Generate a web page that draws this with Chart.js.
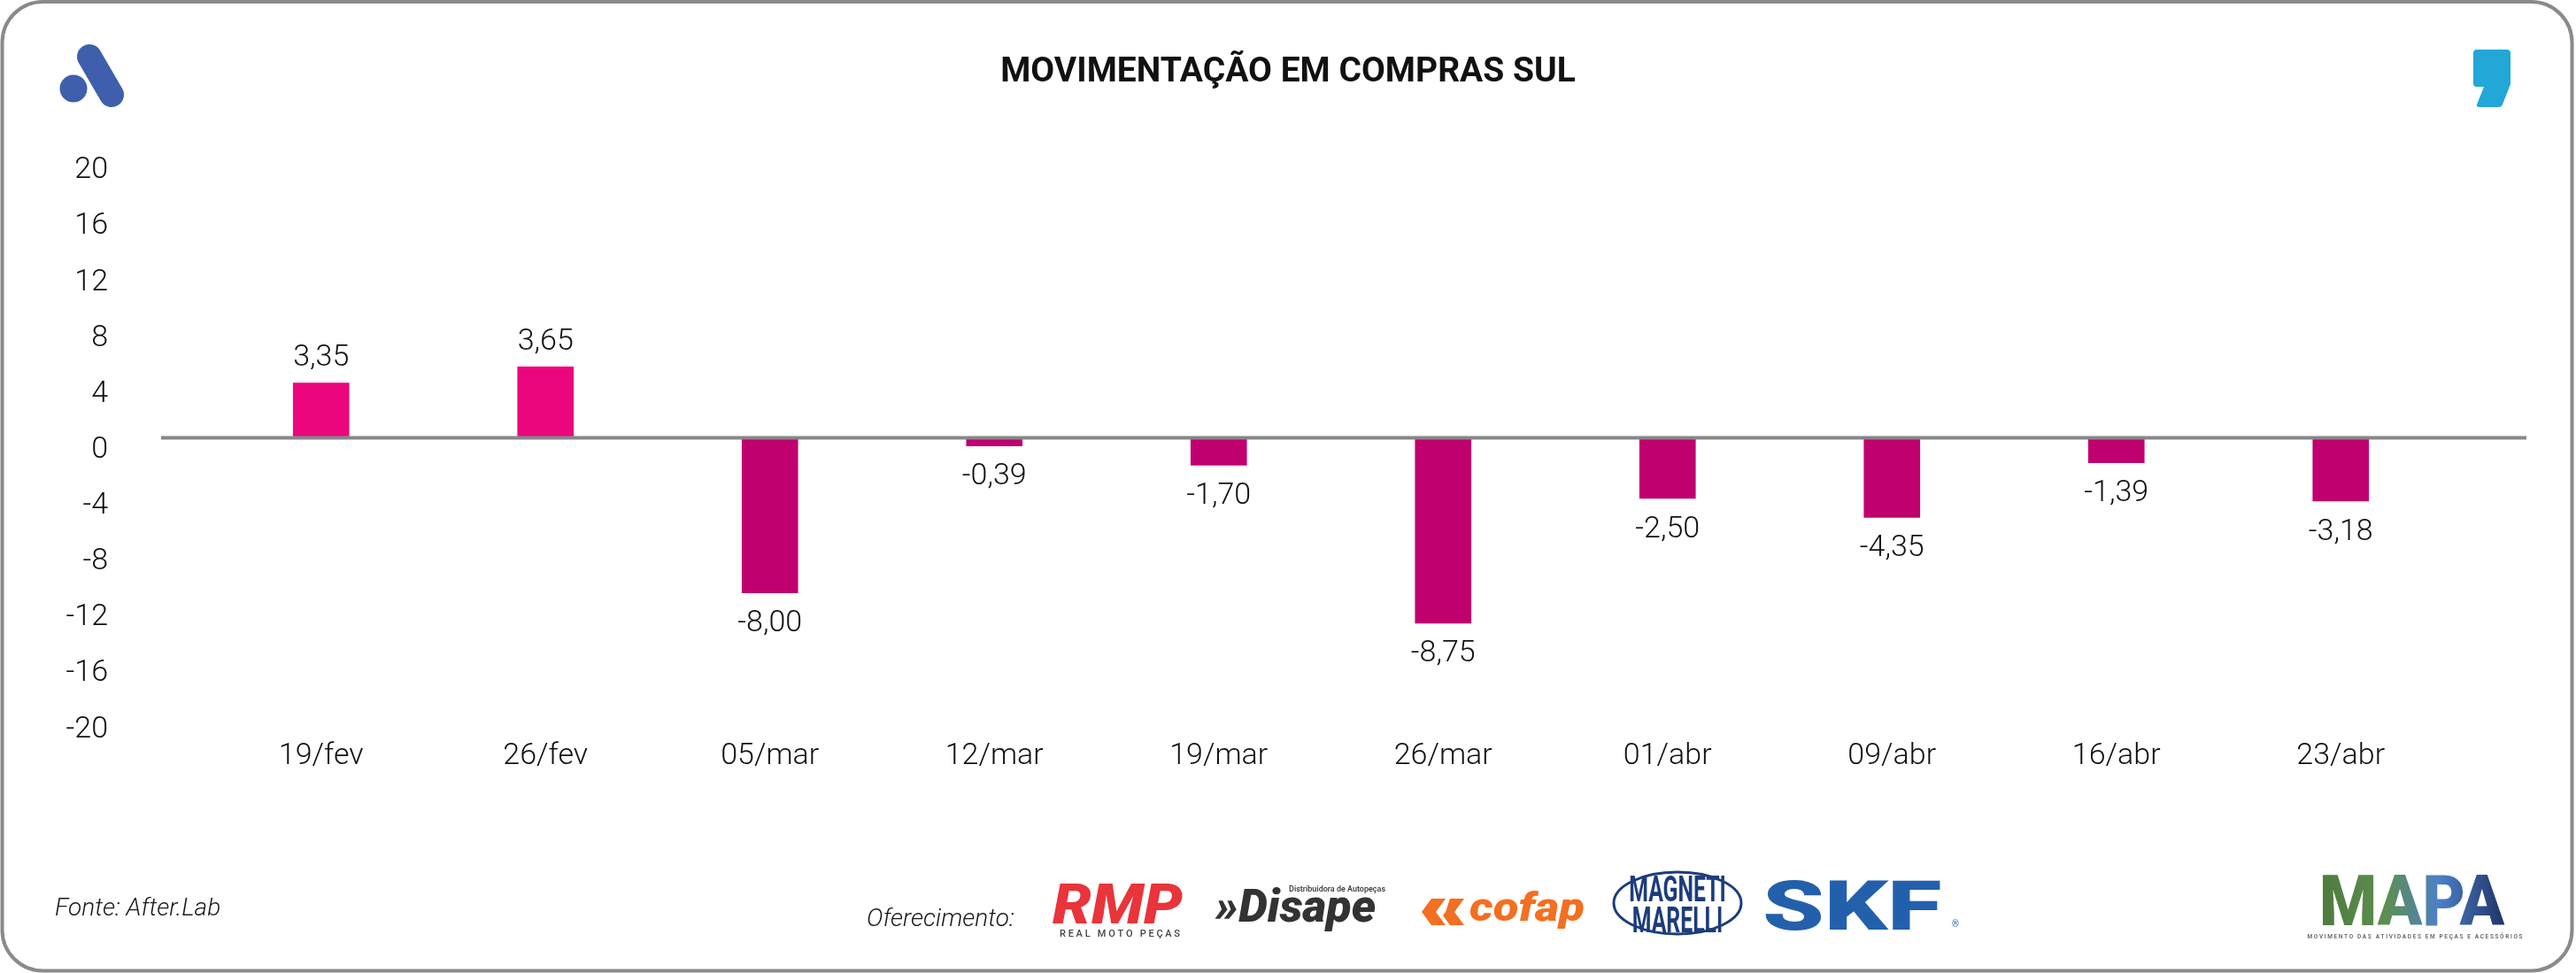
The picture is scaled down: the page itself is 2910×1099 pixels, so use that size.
<!DOCTYPE html>
<html>
<head>
<meta charset="utf-8">
<script src="https://cdn.jsdelivr.net/npm/chart.js@4.4.1/dist/chart.umd.min.js"></script>
<style>
  html, body { margin: 0; padding: 0; background: #ffffff; }
  #wrap { position: relative; width: 2910px; height: 1099px; }
</style>
</head>
<body>
<div id="wrap"><canvas id="c"></canvas></div>
<script>
// ---------------- DATA ----------------
const categories = ['19/fev', '26/fev', '05/mar', '12/mar', '19/mar', '26/mar', '01/abr', '09/abr', '16/abr', '23/abr'];
// bar heights as drawn against the axis
const barValues = [3.92, 5.07, -11.1, -0.59, -1.97, -13.28, -4.35, -5.7, -1.79, -4.54];
// value labels printed on the bars
const valueLabels = ['3,35', '3,65', '-8,00', '-0,39', '-1,70', '-8,75', '-2,50', '-4,35', '-1,39', '-3,18'];
const yMin = -20;
const yMax = 20;
const yStep = 4;
const chartTitle = 'MOVIMENTAÇÃO EM COMPRAS SUL';
const sourceText = 'Fonte: After.Lab';
const sponsorText = 'Oferecimento:';

// ---------------- STYLE ----------------
const POS_COLOR = '#EC067E';
const NEG_COLOR = '#C1006F';
const AXIS_GREY = '#878787';
const BASE_FONT = 'Roboto';

const bgPlugin = {
  id: 'bg',
  beforeDraw(chart) {
    const ctx = chart.ctx;
    ctx.save();
    ctx.fillStyle = '#ffffff';
    ctx.fillRect(0, 0, chart.width, chart.height);
    ctx.restore();
  }
};

const zeroLinePlugin = {
  id: 'zeroLine',
  afterDatasetsDraw(chart) {
    const ctx = chart.ctx;
    const y = chart.scales.y.getPixelForValue(0);
    ctx.save();
    ctx.strokeStyle = AXIS_GREY;
    ctx.lineWidth = 4;
    ctx.beginPath();
    ctx.moveTo(182, y);
    ctx.lineTo(2854, y);
    ctx.stroke();
    ctx.restore();
  }
};

const valueLabelPlugin = {
  id: 'valueLabels',
  afterDatasetsDraw(chart) {
    const ctx = chart.ctx;
    const meta = chart.getDatasetMeta(0);
    ctx.save();
    ctx.font = '300 34px ' + BASE_FONT;
    ctx.fillStyle = '#111111';
    ctx.textAlign = 'center';
    ctx.textBaseline = 'middle';
    meta.data.forEach((el, i) => {
      const v = barValues[i];
      const ty = v >= 0 ? el.y - 28 : el.y + 35;
      ctx.fillText(valueLabels[i], el.x, ty);
    });
    ctx.restore();
  }
};

function roundedRectPath(ctx, x, y, w, h, r) {
  ctx.beginPath();
  ctx.moveTo(x + r, y);
  ctx.lineTo(x + w - r, y);
  ctx.arcTo(x + w, y, x + w, y + r, r);
  ctx.lineTo(x + w, y + h - r);
  ctx.arcTo(x + w, y + h, x + w - r, y + h, r);
  ctx.lineTo(x + r, y + h);
  ctx.arcTo(x, y + h, x, y + h - r, r);
  ctx.lineTo(x, y + r);
  ctx.arcTo(x, y, x + r, y, r);
  ctx.closePath();
}

const decorPlugin = {
  id: 'decor',
  afterDraw(chart) {
    const ctx = chart.ctx;
    ctx.save();

    // frame
    ctx.strokeStyle = '#8a8a8a';
    ctx.lineWidth = 4;
    roundedRectPath(ctx, 2.5, 2, 2903, 1094.5, 46);
    ctx.stroke();

    // "A" logo
    ctx.fillStyle = '#3F5FAD';
    ctx.strokeStyle = '#3F5FAD';
    ctx.beginPath();
    ctx.arc(83, 100, 15.5, 0, Math.PI * 2);
    ctx.fill();
    ctx.lineCap = 'round';
    ctx.lineWidth = 28;
    ctx.beginPath();
    ctx.moveTo(101, 64);
    ctx.lineTo(126, 107);
    ctx.stroke();
    ctx.lineCap = 'butt';

    // comma logo
    ctx.fillStyle = '#22A7D6';
    ctx.beginPath();
    ctx.moveTo(2798, 56);
    ctx.lineTo(2832, 56);
    ctx.quadraticCurveTo(2836, 56, 2836, 60);
    ctx.lineTo(2836, 95);
    ctx.lineTo(2827, 118);
    ctx.quadraticCurveTo(2826, 121, 2822, 121);
    ctx.lineTo(2801, 121);
    ctx.quadraticCurveTo(2797, 121, 2798, 118);
    ctx.lineTo(2806, 98);
    ctx.lineTo(2798, 98);
    ctx.quadraticCurveTo(2794, 98, 2794, 94);
    ctx.lineTo(2794, 60);
    ctx.quadraticCurveTo(2794, 56, 2798, 56);
    ctx.closePath();
    ctx.fill();

    // footer texts
    ctx.fillStyle = '#1a1a1a';
    ctx.textBaseline = 'middle';
    ctx.textAlign = 'left';
    ctx.font = 'italic 300 28px ' + BASE_FONT;
    ctx.fillText(sourceText, 62, 1027);
    ctx.fillText(sponsorText, 979, 1039);

    // RMP
    ctx.fillStyle = '#E8343A';
    ctx.font = 'italic 900 62px ' + BASE_FONT;
    ctx.textBaseline = 'alphabetic';
    ctx.save();
    ctx.translate(1189, 1043);
    ctx.scale(1.12, 1);
    ctx.fillText('RMP', 0, 0);
    ctx.restore();
    ctx.fillStyle = '#444444';
    ctx.font = '500 11px ' + BASE_FONT;
    ctx.textAlign = 'center';
    ctx.textBaseline = 'middle';
    ctx.fillText('R E A L   M O T O   P E Ç A S', 1265, 1055);

    // Disape
    ctx.fillStyle = '#333333';
    ctx.textAlign = 'left';
    ctx.textBaseline = 'alphabetic';
    ctx.font = 'italic 900 52px ' + BASE_FONT;
    ctx.fillText('»Disape', 1373, 1041);
    ctx.font = '500 9px ' + BASE_FONT;
    ctx.fillText('Distribuidora de Autopeças', 1456, 1007);

    // cofap
    ctx.fillStyle = '#F36F21';
    ctx.beginPath();
    ctx.moveTo(1617, 1015); ctx.lineTo(1633, 1015); ctx.lineTo(1622, 1030); ctx.lineTo(1633, 1045);
    ctx.lineTo(1617, 1045); ctx.lineTo(1606, 1030); ctx.closePath(); ctx.fill();
    ctx.beginPath();
    ctx.moveTo(1638, 1015); ctx.lineTo(1654, 1015); ctx.lineTo(1643, 1030); ctx.lineTo(1654, 1045);
    ctx.lineTo(1638, 1045); ctx.lineTo(1630, 1034); ctx.lineTo(1633, 1030); ctx.closePath(); ctx.fill();
    ctx.font = 'italic 900 44px ' + BASE_FONT;
    ctx.save();
    ctx.translate(1660, 1040);
    ctx.scale(1.2, 1);
    ctx.fillText('cofap', 0, 0);
    ctx.restore();

    // Magneti Marelli
    ctx.strokeStyle = '#1D3C7C';
    ctx.fillStyle = '#1D3C7C';
    ctx.lineWidth = 3;
    ctx.beginPath();
    ctx.ellipse(1895, 1020, 72, 35, 0, 0, Math.PI * 2);
    ctx.stroke();
    ctx.font = '700 40px ' + BASE_FONT;
    ctx.textAlign = 'center';
    ctx.save();
    ctx.translate(1895, 1018);
    ctx.scale(0.62, 1);
    ctx.fillText('MAGNETI', 0, 0);
    ctx.restore();
    ctx.save();
    ctx.translate(1895, 1053);
    ctx.scale(0.62, 1);
    ctx.fillText('MARELLI', 0, 0);
    ctx.restore();

    // SKF
    ctx.fillStyle = '#2360AC';
    ctx.textAlign = 'left';
    ctx.font = '900 77px ' + BASE_FONT;
    ctx.save();
    ctx.translate(1991, 1050);
    ctx.scale(1.45, 1);
    ctx.fillText('SKF', 0, 0);
    ctx.restore();
    ctx.font = '400 10px ' + BASE_FONT;
    ctx.fillText('®', 2205, 1047);

    // MAPA
    ctx.save();
    ctx.translate(2620, 1045);
    ctx.scale(0.93, 1);
    const g = ctx.createLinearGradient(0, 0, 234, 0);
    g.addColorStop(0, '#4E7B3B');
    g.addColorStop(0.35, '#5E8E52');
    g.addColorStop(0.62, '#4C80C6');
    g.addColorStop(1, '#1B2B5E');
    ctx.fillStyle = g;
    ctx.font = '900 80px ' + BASE_FONT;
    ctx.fillText('MAPA', 0, 0);
    ctx.restore();
    ctx.fillStyle = '#666666';
    ctx.font = '600 6.5px ' + BASE_FONT;
    ctx.textAlign = 'center';
    ctx.textBaseline = 'middle';
    ctx.fillText('M O V I M E N T O   D A S   A T I V I D A D E S   E M   P E Ç A S   E   A C E S S Ó R I O S', 2728, 1058);

    ctx.restore();
  }
};

const chart = new Chart(document.getElementById('c'), {
  type: 'bar',
  data: {
    labels: categories,
    datasets: [{
      data: barValues,
      backgroundColor: (c) => (barValues[c.dataIndex] >= 0 ? POS_COLOR : NEG_COLOR),
      borderWidth: 0,
      barThickness: 63
    }]
  },
  options: {
    responsive: true,
    maintainAspectRatio: false,
    devicePixelRatio: 1,
    animation: false,
    events: [],
    layout: { padding: { left: 0, right: 0, top: 0, bottom: 189 } },
    plugins: {
      legend: { display: false },
      tooltip: { enabled: false },
      title: {
        display: true,
        text: chartTitle,
        color: '#111111',
        font: { family: BASE_FONT, size: 39, weight: 'bold', lineHeight: 1.2 },
        padding: { top: 59, bottom: 73 }
      }
    },
    scales: {
      x: {
        grid: { display: false, drawTicks: false },
        border: { display: false },
        ticks: {
          color: '#111111',
          font: { family: BASE_FONT, size: 34, weight: '300' },
          padding: 24,
          maxRotation: 0,
          autoSkip: false
        },
        afterFit: (s) => { s.height = 100; }
      },
      y: {
        position: 'left',
        min: yMin,
        max: yMax,
        grid: { display: false, drawTicks: false },
        border: { display: false },
        ticks: {
          stepSize: yStep,
          color: '#111111',
          font: { family: BASE_FONT, size: 34, weight: '300' },
          padding: 114,
          labelOffset: 14
        },
        afterFit: (s) => { s.width = 236; }
      },
      // empty right-hand margin so the plot area ends where the reference's does
      yRight: {
        position: 'right',
        display: true,
        grid: { display: false, drawTicks: false },
        border: { display: false },
        ticks: { display: false },
        afterFit: (s) => { s.width = 139; }
      }
    }
  },
  plugins: [bgPlugin, zeroLinePlugin, valueLabelPlugin, decorPlugin]
});
</script>
</body>
</html>
